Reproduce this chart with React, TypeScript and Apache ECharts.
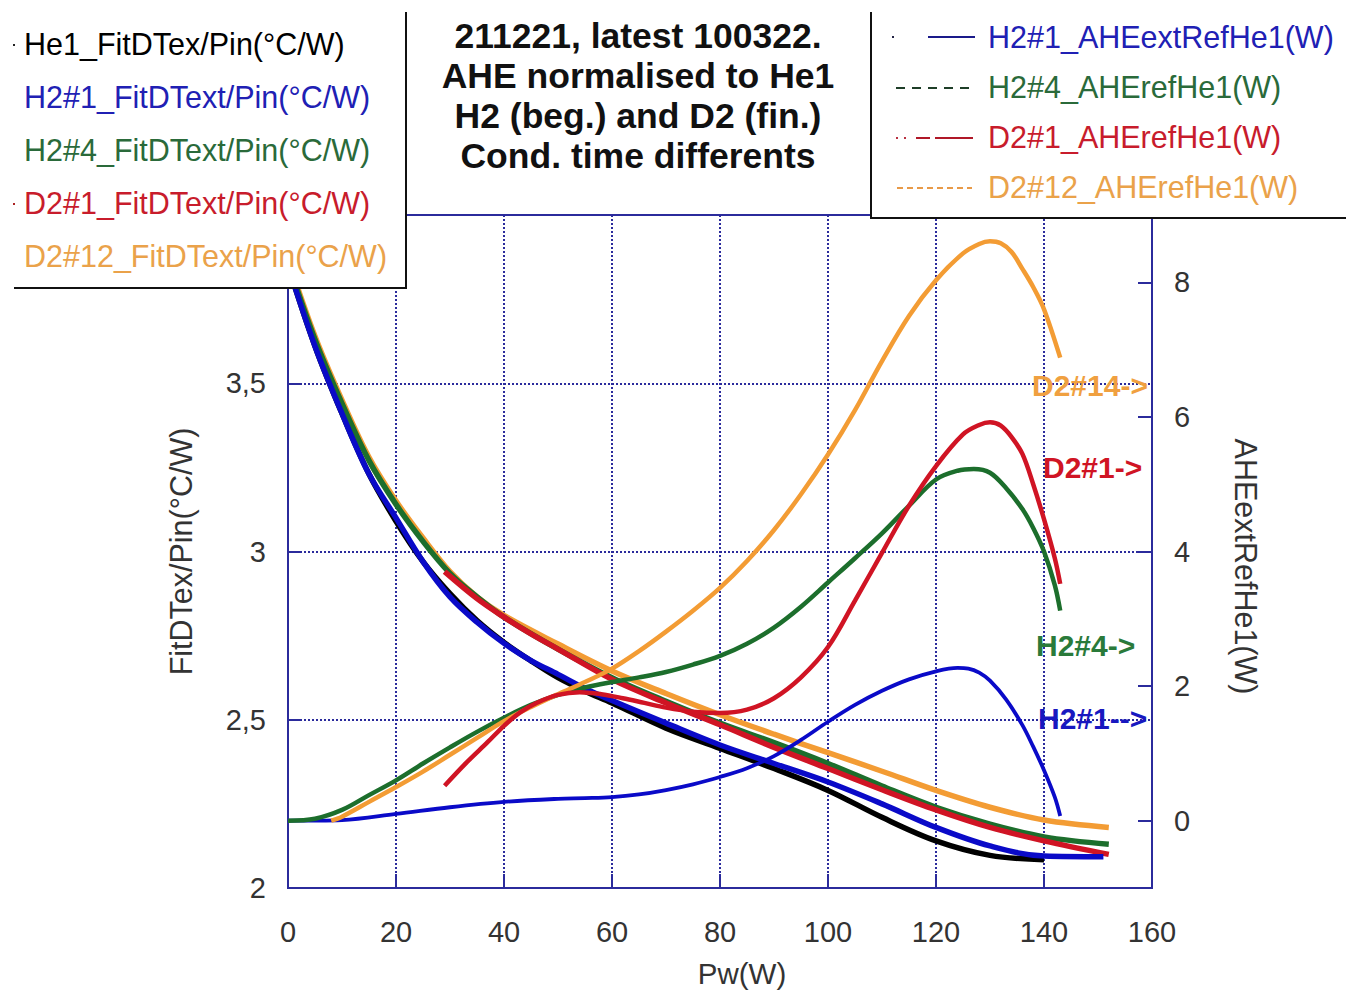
import React, { useEffect, useRef } from "react";
import * as echarts from "echarts";

// ---- Data ----
// Left axis: FitDTex/Pin (°C/W)
const he1X = [0, 5, 10, 15, 20, 25, 30, 35, 40, 45, 50, 55, 60, 70, 80, 90, 100, 110, 120, 130, 140];
const he1Y = [3.85, 3.61, 3.41, 3.23, 3.09, 2.97, 2.875, 2.795, 2.73, 2.675, 2.625, 2.585, 2.55, 2.475, 2.415, 2.355, 2.29, 2.21, 2.14, 2.097, 2.084];

const h21X = [0, 5, 10, 15, 20, 25, 30, 35, 40, 45, 50, 55, 60, 70, 80, 90, 100, 110, 120, 130, 140, 151];
const h21Y = [3.85, 3.61, 3.41, 3.23, 3.1, 2.97, 2.865, 2.79, 2.727, 2.676, 2.635, 2.593, 2.557, 2.49, 2.425, 2.37, 2.315, 2.25, 2.18, 2.125, 2.095, 2.093];

const h24X = [0, 5, 10, 15, 20, 25, 30, 35, 40, 50, 60, 70, 80, 90, 100, 110, 120, 130, 140, 152];
const h24Y = [3.86, 3.63, 3.44, 3.27, 3.14, 3.03, 2.935, 2.865, 2.805, 2.71, 2.625, 2.555, 2.49, 2.432, 2.37, 2.303, 2.24, 2.19, 2.152, 2.13];

const d21X = [29, 35, 40, 45, 50, 60, 70, 80, 90, 100, 110, 120, 130, 140, 152];
const d21Y = [2.94, 2.86, 2.805, 2.755, 2.71, 2.62, 2.55, 2.485, 2.418, 2.355, 2.292, 2.232, 2.18, 2.14, 2.1];

const d212X = [0, 5, 10, 15, 20, 25, 30, 35, 40, 50, 60, 70, 80, 90, 100, 110, 120, 130, 140, 152];
const d212Y = [3.87, 3.64, 3.45, 3.28, 3.15, 3.04, 2.94, 2.865, 2.81, 2.725, 2.645, 2.578, 2.515, 2.457, 2.402, 2.347, 2.29, 2.24, 2.202, 2.18];

// Right axis: AHE (W)
const aheH21X = [0, 10, 20, 30, 40, 50, 55, 60, 65, 70, 75, 80, 85, 90, 95, 100, 105, 110, 115, 120, 124, 126, 128, 130, 133, 136, 138, 140, 142, 143];
const aheH21Y = [0, 0.01, 0.1, 0.2, 0.28, 0.325, 0.335, 0.35, 0.39, 0.455, 0.54, 0.65, 0.78, 0.96, 1.2, 1.47, 1.72, 1.93, 2.1, 2.22, 2.27, 2.26, 2.2, 2.08, 1.8, 1.42, 1.1, 0.75, 0.35, 0.07];

const aheH24X = [0, 5, 10, 15, 20, 25, 30, 35, 40, 45, 50, 55, 60, 65, 70, 75, 80, 85, 90, 95, 100, 105, 110, 115, 120, 124, 127, 130, 133, 136, 138, 140, 142, 143];
const aheH24Y = [0, 0.03, 0.16, 0.38, 0.6, 0.85, 1.09, 1.32, 1.53, 1.72, 1.87, 1.98, 2.06, 2.13, 2.21, 2.32, 2.45, 2.63, 2.87, 3.18, 3.54, 3.9, 4.27, 4.68, 5.07, 5.2, 5.225, 5.17, 4.94, 4.63, 4.35, 4.0, 3.5, 3.12];

const aheD21X = [29, 33, 37, 40, 43, 46, 50, 54, 58, 62, 66, 70, 75, 80, 85, 90, 95, 100, 105, 110, 115, 120, 125, 128, 130, 132, 134, 136, 138, 140, 142, 143];
const aheD21Y = [0.52, 0.86, 1.17, 1.41, 1.61, 1.75, 1.87, 1.91, 1.88, 1.82, 1.75, 1.68, 1.62, 1.6, 1.65, 1.82, 2.13, 2.58, 3.27, 3.98, 4.68, 5.27, 5.74, 5.88, 5.92, 5.87, 5.7, 5.45, 5.0, 4.48, 3.9, 3.52];

const aheD212X = [8, 10, 15, 20, 25, 30, 35, 40, 45, 50, 55, 60, 65, 70, 75, 80, 85, 90, 95, 100, 105, 110, 115, 120, 125, 128, 130, 132, 134, 136, 138, 140, 143];
const aheD212Y = [0.0, 0.06, 0.28, 0.5, 0.73, 0.98, 1.23, 1.48, 1.69, 1.88, 2.06, 2.26, 2.52, 2.81, 3.12, 3.46, 3.86, 4.32, 4.85, 5.44, 6.1, 6.83, 7.5, 8.03, 8.43, 8.57, 8.61, 8.58, 8.45, 8.2, 7.93, 7.6, 6.88];

const leftLegend = [
  "He1_FitDTex/Pin(°C/W)",
  "H2#1_FitDText/Pin(°C/W)",
  "H2#4_FitDText/Pin(°C/W)",
  "D2#1_FitDText/Pin(°C/W)",
  "D2#12_FitDText/Pin(°C/W)",
];
const rightLegend = [
  "H2#1_AHEextRefHe1(W)",
  "H2#4_AHErefHe1(W)",
  "D2#1_AHErefHe1(W)",
  "D2#12_AHErefHe1(W)",
];
const titleLines = [
  "211221, latest 100322.",
  "AHE normalised to He1",
  "H2 (beg.) and D2 (fin.)",
  "Cond. time differents",
];
const curveLabels = ["D2#14->", "D2#1->", "H2#4->", "H2#1-->"];

// ---- Styles ----
const C_BLACK = "#000000";
const C_BLUE = "#0a0ac8";
const C_GREEN = "#1c6e2c";
const C_RED = "#d01424";
const C_ORANGE = "#f39c34";
const AXIS = "#2b2b9c";
const FONT = "Liberation Sans, Arial, sans-serif";

const pairs = (xs: number[], ys: number[]) => xs.map((x, i) => [x, ys[i]]);

export default function App() {
  const ref = useRef<HTMLDivElement>(null);
  useEffect(() => {
    if (!ref.current) return;
    const chart = echarts.init(ref.current, null, { renderer: "svg" });

    const line = (name: string, xs: number[], ys: number[], color: string, width: number, yAxisIndex: number, z = 2) => ({
      name,
      type: "line",
      yAxisIndex,
      data: pairs(xs, ys),
      smooth: 0.35,
      showSymbol: false,
      symbol: "none",
      lineStyle: { color, width },
      itemStyle: { color },
      z,
    });

    const legendTextColors = [C_BLACK, "#2020b4", "#2a6a3a", "#c81c2c", "#eaa24a"];
    const rightTextColors = ["#2020b4", "#2a6a3a", "#c81c2c", "#eaa24a"];

    const graphics: any[] = [];
    // left legend box
    graphics.push({ type: "rect", z: 100, shape: { x: -2, y: 0, width: 408, height: 288 }, style: { fill: "#fff" } });
    graphics.push({ type: "polyline", z: 101, shape: { points: [[406, 12], [406, 288], [14, 288]] }, style: { stroke: "#111", lineWidth: 2, fill: null } });
    leftLegend.forEach((t, i) => {
      graphics.push({
        type: "text", z: 102, x: 24, y: 44 + i * 53,
        style: { text: t, fill: legendTextColors[i], font: `30.5px ${FONT}`, textVerticalAlign: "middle", textAlign: "left" },
      });
    });
    graphics.push({ type: "rect", z: 102, shape: { x: 13, y: 44, width: 2, height: 2 }, style: { fill: "#222" } });
    graphics.push({ type: "rect", z: 102, shape: { x: 13, y: 203, width: 2, height: 2 }, style: { fill: "#a22" } });

    // title box
    graphics.push({ type: "rect", z: 100, shape: { x: 407, y: 0, width: 464, height: 214 }, style: { fill: "#fff" } });
    graphics.push({ type: "line", z: 101, shape: { x1: 406, y1: 12, x2: 406, y2: 215 }, style: { stroke: "#111", lineWidth: 2 } });
    titleLines.forEach((t, i) => {
      graphics.push({
        type: "text", z: 102, x: 638, y: 36 + i * 40,
        style: { text: t, fill: "#111", font: `bold 35.5px ${FONT}`, textAlign: "center", textVerticalAlign: "middle" },
      });
    });

    // right legend box
    graphics.push({ type: "rect", z: 100, shape: { x: 871, y: 0, width: 480, height: 218 }, style: { fill: "#fff" } });
    graphics.push({ type: "polyline", z: 101, shape: { points: [[871, 12], [871, 218], [1350, 218]] }, style: { stroke: "#111", lineWidth: 2, fill: null } });
    rightLegend.forEach((t, i) => {
      graphics.push({
        type: "text", z: 102, x: 988, y: 37 + i * 50,
        style: { text: t, fill: rightTextColors[i], font: `30.5px ${FONT}`, textVerticalAlign: "middle", textAlign: "left" },
      });
    });
    // legend samples
    graphics.push({ type: "rect", z: 102, shape: { x: 892, y: 36, width: 2, height: 2 }, style: { fill: "#224" } });
    graphics.push({ type: "line", z: 102, shape: { x1: 928, y1: 37, x2: 975, y2: 37 }, style: { stroke: "#1a1a8a", lineWidth: 2 } });
    graphics.push({ type: "line", z: 102, shape: { x1: 896, y1: 88, x2: 970, y2: 88 }, style: { stroke: "#1e3e28", lineWidth: 2, lineDash: [9, 7] } });
    graphics.push({ type: "line", z: 102, shape: { x1: 896, y1: 138, x2: 912, y2: 138 }, style: { stroke: "#b83040", lineWidth: 2, lineDash: [2, 6] } });
    graphics.push({ type: "line", z: 102, shape: { x1: 916, y1: 138, x2: 973, y2: 138 }, style: { stroke: "#b01828", lineWidth: 2, lineDash: [14, 5, 36, 0] } });
    graphics.push({ type: "line", z: 102, shape: { x1: 897, y1: 188, x2: 972, y2: 188 }, style: { stroke: "#e89a48", lineWidth: 2, lineDash: [6, 4] } });

    // curve annotations
    const annPos = [[1032, 385, "#f0a040"], [1043, 467, "#d01424"], [1036, 645, "#2a7a3a"], [1038, 718, "#1818c0"]];
    curveLabels.forEach((t, i) => {
      const [x, y, c] = annPos[i] as [number, number, string];
      graphics.push({
        type: "text", z: 90, x, y,
        style: { text: t, fill: c, font: `bold 30px ${FONT}`, textVerticalAlign: "middle", textAlign: "left" },
      });
    });

    chart.setOption({
      animation: false,
      backgroundColor: "#ffffff",
      grid: { left: 288, right: 194, top: 215, bottom: 115, show: true, borderColor: AXIS, borderWidth: 2, backgroundColor: "transparent" },
      xAxis: {
        type: "value",
        min: 0,
        max: 160,
        interval: 20,
        name: "Pw(W)",
        nameLocation: "middle",
        nameGap: 70,
        nameTextStyle: { fontSize: 29.5, color: "#333", fontFamily: FONT, padding: [0, 0, 0, 44] },
        axisLine: { show: true, onZero: false, lineStyle: { color: AXIS, width: 2 } },
        axisTick: { show: true, inside: true, length: 14, lineStyle: { color: AXIS, width: 2 } },
        axisLabel: { fontSize: 29, color: "#333", fontFamily: FONT, margin: 29 },
        splitLine: { show: true, lineStyle: { color: AXIS, width: 2, type: [2, 2] } },
      },
      yAxis: [
        {
          type: "value",
          min: 2,
          max: 4,
          interval: 0.5,
          position: "left",
          name: "FitDTex/Pin(°C/W)",
          nameLocation: "middle",
          nameRotate: 90,
          nameGap: 92,
          nameTextStyle: { fontSize: 30.5, color: "#333", fontFamily: FONT },
          axisLine: { show: true, onZero: false, lineStyle: { color: AXIS, width: 2 } },
          axisTick: { show: true, inside: true, length: 14, lineStyle: { color: AXIS, width: 2 } },
          axisLabel: {
            fontSize: 29, color: "#333", fontFamily: FONT, margin: 22,
            formatter: (v: number) => (v >= 4 ? "" : String(v).replace(".", ",")),
          },
          splitLine: { show: true, lineStyle: { color: AXIS, width: 2, type: [2, 2] } },
        },
        {
          type: "value",
          min: -1,
          max: 9,
          interval: 1,
          position: "right",
          name: "AHEextRefHe1(W)",
          nameLocation: "middle",
          nameRotate: -90,
          nameGap: 78,
          nameTextStyle: { fontSize: 30.5, color: "#333", fontFamily: FONT, padding: [0, 0, 0, 30] },
          axisLine: { show: true, onZero: false, lineStyle: { color: AXIS, width: 2 } },
          axisTick: { show: true, inside: true, length: 14, customValues: [0, 2, 4, 6, 8], lineStyle: { color: AXIS, width: 2 } },
          axisLabel: { fontSize: 29, color: "#333", fontFamily: FONT, margin: 22, customValues: [0, 2, 4, 6, 8] },
          splitLine: { show: false },
        },
      ],
      graphic: graphics,
      series: [
        line(leftLegend[0], he1X, he1Y, C_BLACK, 5.5, 0, 2),
        line(leftLegend[4], d212X, d212Y, C_ORANGE, 5.5, 0, 3),
        line(leftLegend[2], h24X, h24Y, C_GREEN, 5.5, 0, 3),
        line(leftLegend[3], d21X, d21Y, C_RED, 5.5, 0, 4),
        line(leftLegend[1], h21X, h21Y, C_BLUE, 5.5, 0, 5),
        line(rightLegend[0], aheH21X, aheH21Y, C_BLUE, 3.8, 1, 6),
        line(rightLegend[1], aheH24X, aheH24Y, C_GREEN, 4.5, 1, 6),
        line(rightLegend[3], aheD212X, aheD212Y, C_ORANGE, 4.5, 1, 6),
        line(rightLegend[2], aheD21X, aheD21Y, C_RED, 4.5, 1, 7),
      ],
    });
    return () => chart.dispose();
  }, []);
  return <div ref={ref} style={{ position: "fixed", left: 0, top: 0, width: 1346, height: 1003, background: "#fff" }} />;
}
